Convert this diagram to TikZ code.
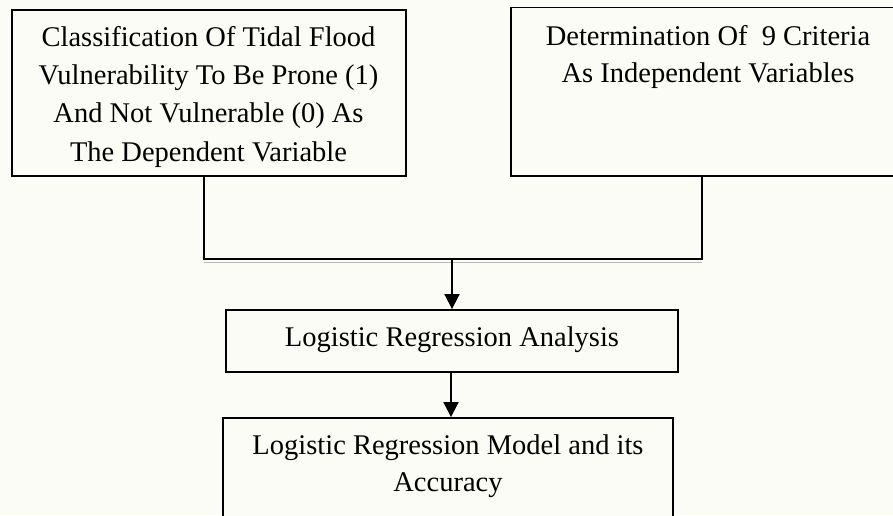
\documentclass[tikz,border=0pt]{standalone}
\usepackage{fontspec}
\setmainfont{Liberation Serif}
\usetikzlibrary{arrows.meta}
\definecolor{bgc}{RGB}{251,252,245}
\begin{document}
\begin{tikzpicture}[x=1pt,y=-1pt,
  box/.style={draw=black,line width=1.9pt,inner sep=0pt,fill=bgc},
  txt/.style={inner sep=0pt,anchor=base,align=center,font=\fontsize{28.5}{38.1}\selectfont},
  txtb/.style={txt,font=\fontsize{28.5}{37}\selectfont},
  conn/.style={line width=1.9pt,draw=black},
  arr/.style={conn,-{Triangle[width=15pt,length=15pt]}}]
\useasboundingbox (0,0) rectangle (893,515);
\fill[bgc] (0,0) rectangle (893,515);
\clip (0,0) rectangle (893,515);
% boxes
\node[box,minimum width=393.7pt,minimum height=166pt] (b1) at (208.85,93) {};
\node[box,minimum width=394pt,minimum height=168.5pt] (b2) at (708,91.75) {};
\node[box,minimum width=452pt,minimum height=62pt] (m) at (452,341) {};
\node[box,minimum width=450.6pt,minimum height=120pt] (f) at (448,478) {};
% texts (base anchor = last line)
\node[txt] (t1) at (208.5,161) {Classification Of Tidal Flood\\Vulnerability To Be Prone (1)\\And Not Vulnerable (0) As\\The Dependent Variable};
\node[txtb] (t2) at (708,82) {Determination Of \ 9 Criteria\\As Independent Variables};
\node[txtb] (t3) at (452,346.7) {Logistic Regression Analysis};
\node[txtb] (t4) at (448,491.7) {Logistic Regression Model and its\\Accuracy};
% connectors
\coordinate (jl) at (204,259);
\coordinate (jr) at (702,259);
\coordinate (jm) at (452,259);
\draw[gray!55,line width=1.6pt] ([yshift=-3.4pt]jl) -- ([yshift=-3.4pt]jr);
\draw[conn] (b1.south -| jl) -- (jl) -- (jr) -- (b2.south -| jr);
\draw[arr] (jm) -- (m.north);
\draw[arr] ([xshift=-1pt]m.south) -- ([xshift=-1pt]m.south |- f.north);
\end{tikzpicture}
\end{document}
